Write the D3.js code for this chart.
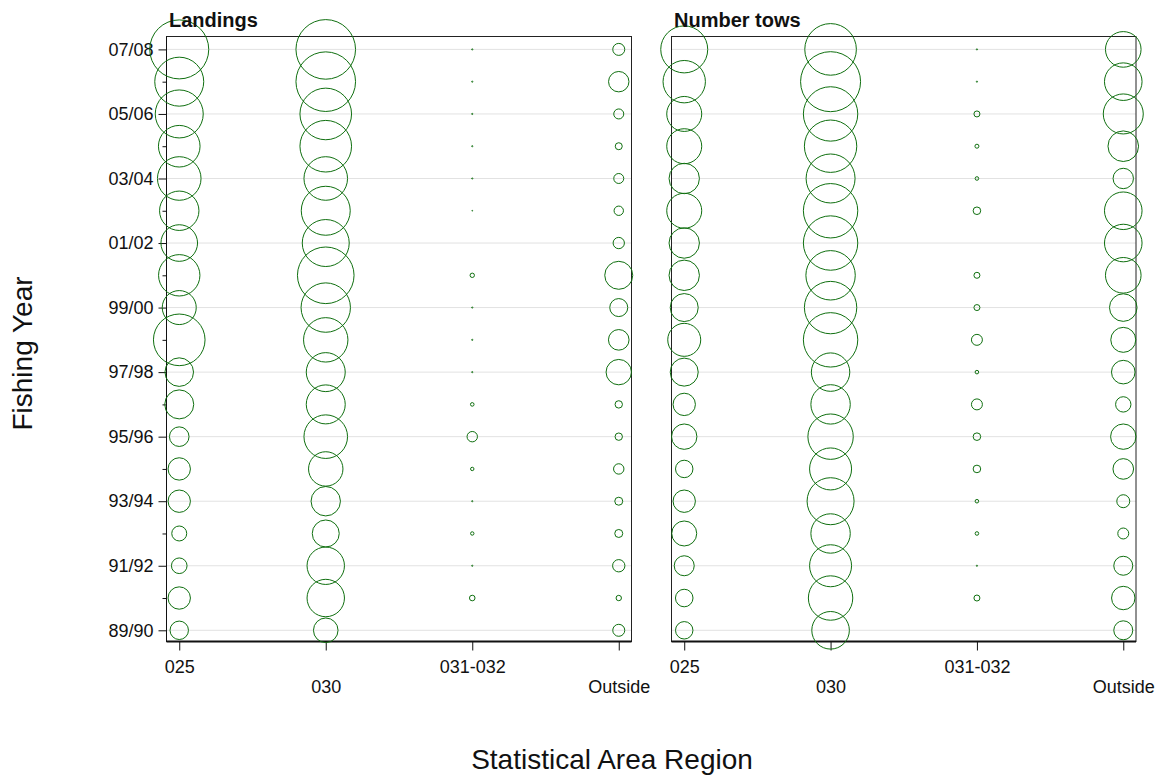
<!DOCTYPE html>
<html>
<head>
<meta charset="utf-8">
<script src="https://cdn.jsdelivr.net/npm/d3@7"></script>
<style>
  html, body { margin: 0; padding: 0; background: #fff; }
  svg { display: block; }
  text { font-family: "Liberation Sans", Arial, Helvetica, sans-serif; fill: #111; }
</style>
</head>
<body>
<svg id="chart" width="1160" height="776"></svg>
<script>
// Fishing years, oldest first
const years = ["89/90","90/91","91/92","92/93","93/94","94/95","95/96","96/97","97/98","98/99",
               "99/00","00/01","01/02","02/03","03/04","04/05","05/06","06/07","07/08"];
// Only every second year carries a label
const yearLabels = ["89/90","91/92","93/94","95/96","97/98","99/00","01/02","03/04","05/06","07/08"];
const areas = ["025","030","031-032","Outside"];

// Landings by statistical area (relative units, circle area proportional to value)
const landings025     = [85,125,61,56,125,125,96,210,204,666,289,428,335,388,475,433,576,600,870];
const landings030     = [151,350,350,182,216,296,475,380,380,493,610,801,552,600,475,666,666,888,888];
const landings031_032 = [0,7.8,0.36,2.9,0.36,2.9,27,3.2,0.36,0.36,0.36,4.8,0,0.16,0.36,0.36,0.36,0.36,0.36];
const landingsOutside = [36,7.3,38,16,16,27,13.7,13.7,161,106,81,196,32,22,25,12.3,25,104,36];

// Number of tows by statistical area (relative units)
const tows025     = [76,77,100,156,125,76,161,125,196,272,196,231,231,306,231,306,306,449,552];
const tows030     = [353,493,441,388,552,441,515,388,369,740,686,610,740,740,600,686,740,900,666];
const tows031_032 = [0,9,0.36,3.2,3.2,14.4,14.4,30,3.2,30,9,9,0,14.4,3.2,4,9,0.36,0.36];
const towsOutside = [90,137,90,30,42,106,161,59,139,156,190,317,353,353,104,234,400,353,317];

const panels = [
  { title: "Landings",    series: [landings025, landings030, landings031_032, landingsOutside], x0: 166.5, x1: 631.5, yAxis: true },
  { title: "Number tows", series: [tows025, tows030, tows031_032, towsOutside],                 x0: 671.5, x1: 1136,  yAxis: false }
];

const plotTop = 36.5, plotBottom = 641.5;
const svg = d3.select("#chart");

const y = d3.scalePoint().domain(years).range([630.3, 49.4]);
const r = d3.scaleSqrt().domain([0, 900]).range([0, 30]);
const green = "#0f6f0f";

panels.forEach(p => {
  const g = svg.append("g");
  const x = d3.scalePoint().domain(areas).range([p.x0, p.x1]).padding(0.087);

  // light horizontal guides at labelled years
  g.append("g").selectAll("line").data(yearLabels).join("line")
    .attr("x1", p.x0).attr("x2", p.x1)
    .attr("y1", d => y(d)).attr("y2", d => y(d))
    .attr("stroke", "#e2e2e2").attr("stroke-width", 1);

  // panel frame
  g.append("rect")
    .attr("x", p.x0).attr("y", plotTop)
    .attr("width", p.x1 - p.x0).attr("height", plotBottom - plotTop)
    .attr("fill", "none").attr("stroke", "#222").attr("stroke-width", 1);

  // bottom axis
  const xAxis = d3.axisBottom(x).tickSize(9).tickPadding(4);
  const ax = g.append("g").attr("transform", `translate(0,${plotBottom})`).call(xAxis);
  ax.select(".domain").attr("stroke", "#111").attr("stroke-width", 2.2)
    .attr("d", `M${p.x0},0H${p.x1}`);
  ax.selectAll(".tick line").attr("stroke", "#111");
  ax.selectAll(".tick text")
    .attr("font-size", 18)
    .attr("font-family", "'Liberation Sans', Arial, sans-serif")
    .attr("fill", "#222")
    .attr("dy", null)
    .attr("y", (d, i) => i % 2 === 0 ? 31 : 51.5);

  // left axis (first panel only)
  if (p.yAxis) {
    const yAxis = d3.axisLeft(y).tickSize(8).tickPadding(5)
      .tickFormat(d => yearLabels.includes(d) ? d : "");
    const ay = g.append("g").attr("transform", `translate(${p.x0},0)`).call(yAxis);
    ay.select(".domain").attr("stroke", "#111").attr("d", `M0,${plotTop}V${plotBottom}`);
    ay.selectAll(".tick line")
      .attr("stroke", "#111")
      .attr("x2", d => yearLabels.includes(d) ? -8 : -4);
    ay.selectAll(".tick text")
      .attr("font-size", 18)
      .attr("font-family", "'Liberation Sans', Arial, sans-serif")
      .attr("fill", "#222");
  }

  // bubbles
  p.series.forEach((vals, ai) => {
    g.append("g").selectAll("circle").data(vals).join("circle")
      .attr("cx", x(areas[ai]))
      .attr("cy", (d, i) => y(years[i]))
      .attr("r", d => r(d))
      .attr("fill", "none")
      .attr("stroke", green)
      .attr("stroke-width", 1);
  });

  // panel title
  svg.append("text")
    .attr("x", p.x0 + 2.5).attr("y", 26.5)
    .attr("font-size", 20).attr("font-weight", "bold")
    .text(p.title);
});

// axis titles
svg.append("text")
  .attr("transform", "translate(32,353.5) rotate(-90)")
  .attr("text-anchor", "middle")
  .attr("font-size", 28)
  .attr("fill", "#222")
  .text("Fishing Year");

svg.append("text")
  .attr("x", 612).attr("y", 769)
  .attr("text-anchor", "middle")
  .attr("font-size", 28)
  .attr("fill", "#222")
  .text("Statistical Area Region");
</script>
</body>
</html>
